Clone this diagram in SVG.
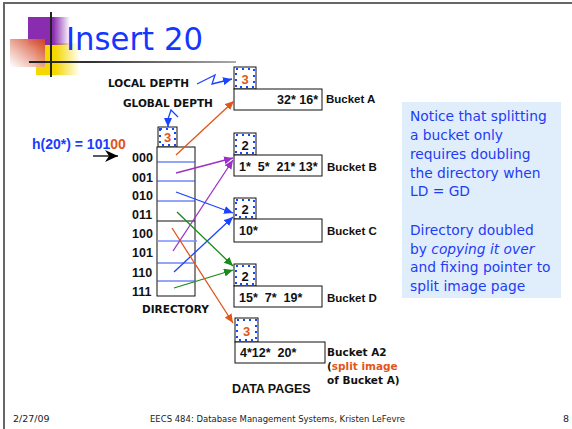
<svg xmlns="http://www.w3.org/2000/svg" width="572" height="429" viewBox="0 0 572 429">
<defs>
<style>
.lbl{font-family:"DejaVu Sans",sans-serif;font-weight:bold;font-size:10.5px;fill:#111}
.hv{font-family:"Liberation Sans",Arial,sans-serif;font-weight:bold;fill:#111}
.note{font-family:"DejaVu Sans",sans-serif;font-size:13.8px;fill:#1f3cf5}
.foot{font-family:"DejaVu Sans",sans-serif;font-size:9.5px;fill:#222}
.box{fill:#fff;stroke:#111;stroke-width:1}
.dots{fill:none;stroke:#1447ff;stroke-width:2;stroke-dasharray:2 4}
.dv{fill:#111}
.or{fill:#e2561a}
.conn{fill:none;stroke-width:1.3}
</style>
<linearGradient id="gPur" x1="0" y1="0" x2="1" y2="0"><stop offset="0" stop-color="#8a2cb0"/><stop offset="0.6" stop-color="#8a2cb0"/><stop offset="1" stop-color="#8a2cb0" stop-opacity="0"/></linearGradient>
<linearGradient id="gYel" x1="0" y1="0" x2="1" y2="0"><stop offset="0" stop-color="#f4d800"/><stop offset="0.45" stop-color="#f4d800"/><stop offset="1" stop-color="#f4d800" stop-opacity="0"/></linearGradient>
<linearGradient id="gRed" x1="1" y1="0" x2="0" y2="1"><stop offset="0" stop-color="#d2401e"/><stop offset="1" stop-color="#ffffff" stop-opacity="0.9"/></linearGradient>
<linearGradient id="gLine" gradientUnits="userSpaceOnUse" x1="29" y1="0" x2="236" y2="0"><stop offset="0" stop-color="#222"/><stop offset="0.3" stop-color="#333"/><stop offset="1" stop-color="#aaa"/></linearGradient>
<marker id="aOr" markerUnits="userSpaceOnUse" markerWidth="10" markerHeight="8" refX="9" refY="4" orient="auto"><path d="M0,0 L9,4 L0,8 z" fill="#e2561a"/></marker>
<marker id="aPu" markerUnits="userSpaceOnUse" markerWidth="10" markerHeight="8" refX="9" refY="4" orient="auto"><path d="M0,0 L9,4 L0,8 z" fill="#9a30c8"/></marker>
<marker id="aBl" markerUnits="userSpaceOnUse" markerWidth="10" markerHeight="8" refX="9" refY="4" orient="auto"><path d="M0,0 L9,4 L0,8 z" fill="#1a44ff"/></marker>
<marker id="aGr" markerUnits="userSpaceOnUse" markerWidth="10" markerHeight="8" refX="9" refY="4" orient="auto"><path d="M0,0 L9,4 L0,8 z" fill="#1a8a1a"/></marker>
<marker id="aBk" markerUnits="userSpaceOnUse" markerWidth="14" markerHeight="12" refX="13" refY="6" orient="auto"><path d="M0,0 L13,6 L0,12 L4,6 z" fill="#000"/></marker>
</defs>
<rect width="572" height="429" fill="#fff"/>
<path d="M4,429 V3 H572" fill="none" stroke="#666" stroke-width="2"/>

<g id="decor">
<rect x="36" y="43" width="44" height="32" fill="url(#gYel)"/>
<rect x="28" y="17" width="42" height="28" fill="url(#gPur)"/>
<rect x="10" y="39" width="35" height="28" fill="url(#gRed)"/>
<rect x="29" y="61" width="207" height="2" fill="url(#gLine)"/>
<rect x="50" y="12" width="2" height="65" fill="#222"/>
</g>
<text x="66" y="50" font-family="DejaVu Sans,sans-serif" font-size="32" fill="#1436ff" textLength="137" lengthAdjust="spacingAndGlyphs">Insert 20</text>

<g id="labels">
<text class="lbl" x="108" y="87">LOCAL DEPTH</text>
<text class="lbl" x="123" y="107">GLOBAL DEPTH</text>
<text class="hv" x="32" y="149" font-size="14" fill="#1a3cff"><tspan fill="#1a3cff">h(20*) = 101</tspan><tspan fill="#e2561a">00</tspan></text>
<text class="lbl" x="142" y="313">DIRECTORY</text>
<text class="hv" x="232" y="393" font-size="12.5">DATA PAGES</text>
</g>

<g id="globaldepth">
<rect class="box" x="158" y="127" width="19" height="20"/>
<rect class="dots" x="160" y="129" width="15" height="16"/>
<text class="hv or" x="167.5" y="142" font-size="13" text-anchor="middle">3</text>
</g>

<g id="directory">
<rect class="box" x="157" y="147" width="38" height="149"/>
<line x1="157" y1="221" x2="195" y2="221" stroke="#111" stroke-width="1"/>
<g stroke="#2a4cf0" stroke-width="1">
<line x1="157" y1="162" x2="195" y2="162"/>
<line x1="157" y1="181" x2="195" y2="181"/>
<line x1="157" y1="201" x2="195" y2="201"/>
<line x1="157" y1="241" x2="197" y2="241" stroke="#7a90ff" stroke-width="1.5"/>
<line x1="157" y1="263" x2="195" y2="263"/>
<line x1="157" y1="281" x2="195" y2="281"/>
</g>
<g class="hv" font-size="12.5">
<text x="132" y="162">000</text>
<text x="132" y="182">001</text>
<text x="132" y="200">010</text>
<text x="132" y="219">011</text>
<text x="132" y="238">100</text>
<text x="132" y="257">101</text>
<text x="132" y="277">110</text>
<text x="132" y="296">111</text>
</g>
</g>

<g id="bucketA">
<rect class="box" x="234" y="67" width="22" height="22"/>
<rect class="dots" x="236" y="69" width="18" height="18"/>
<text class="hv or" x="245" y="84" font-size="13" text-anchor="middle">3</text>
<rect class="box" x="234" y="89" width="88" height="21"/>
<text class="hv" x="318" y="104" font-size="12.5" text-anchor="end">32* 16*</text>
<text class="hv" x="326" y="103" font-size="11.5">Bucket A</text>
</g>

<g id="bucketB">
<rect class="box" x="234" y="133" width="22" height="22"/>
<rect class="dots" x="236" y="135" width="18" height="18"/>
<text class="hv" x="245" y="150" font-size="13" text-anchor="middle">2</text>
<rect class="box" x="234" y="155" width="88" height="21"/>
<text class="hv" x="239" y="171" font-size="12.5" xml:space="preserve">1*  5*  21* 13*</text>
<text class="hv" x="327" y="171" font-size="11.5">Bucket B</text>
</g>

<g id="bucketC">
<rect class="box" x="234" y="198" width="22" height="21"/>
<rect class="dots" x="236" y="200" width="18" height="17"/>
<text class="hv" x="245" y="214" font-size="13" text-anchor="middle">2</text>
<rect class="box" x="234" y="219" width="88" height="23"/>
<text class="hv" x="239" y="235" font-size="12.5">10*</text>
<text class="hv" x="327" y="235" font-size="11.5">Bucket C</text>
</g>

<g id="bucketD">
<rect class="box" x="234" y="264" width="22" height="22"/>
<rect class="dots" x="236" y="266" width="18" height="18"/>
<text class="hv" x="245" y="281" font-size="13" text-anchor="middle">2</text>
<rect class="box" x="234" y="286" width="88" height="21"/>
<text class="hv" x="239" y="302" font-size="12.5" xml:space="preserve">15*  7*  19*</text>
<text class="hv" x="327" y="302" font-size="11.5">Bucket D</text>
</g>

<g id="bucketA2">
<rect class="box" x="235" y="318" width="23" height="24"/>
<rect class="dots" x="237" y="320" width="19" height="20"/>
<text class="hv or" x="246.5" y="336" font-size="13" text-anchor="middle">3</text>
<rect class="box" x="235" y="342" width="90" height="21"/>
<text class="hv" x="240" y="357" font-size="12.5" xml:space="preserve">4*12*  20*</text>
<text class="lbl" x="327" y="356">Bucket A2</text>
<text class="lbl" x="327" y="370">(<tspan fill="#e2561a">split image</tspan></text>
<text class="lbl" x="327" y="384">of Bucket A)</text>
</g>

<g id="note">
<rect x="402" y="102" width="159" height="196" fill="#e0eefc"/>
<text class="note" x="410" y="121">Notice that splitting</text>
<text class="note" x="410" y="140">a bucket only</text>
<text class="note" x="410" y="159">requires doubling</text>
<text class="note" x="410" y="178">the directory when</text>
<text class="note" x="410" y="196">LD = GD</text>
<text class="note" x="410" y="235">Directory doubled</text>
<text class="note" x="410" y="254">by <tspan font-style="italic">copying it over</tspan></text>
<text class="note" x="410" y="272">and fixing pointer to</text>
<text class="note" x="410" y="291">split image page</text>
</g>

<g id="connectors">
<polyline class="conn" stroke="#1a44ff" stroke-width="1" points="197,84 215,75 212,84 232,79" marker-end="url(#aBl)"/>
<polyline class="conn" stroke="#1a44ff" stroke-width="1" points="178,117 171,110 168,119 168,127" marker-end="url(#aBl)"/>
<line x1="93" y1="156" x2="118" y2="156" stroke="#000" stroke-width="1.3" marker-end="url(#aBk)"/>
<line class="conn" stroke="#e2561a" x1="176" y1="155" x2="234" y2="101" marker-end="url(#aOr)"/>
<line class="conn" stroke="#9a30c8" x1="176" y1="173" x2="233" y2="158" marker-end="url(#aPu)"/>
<line class="conn" stroke="#9a30c8" x1="173" y1="251" x2="233" y2="160" marker-end="url(#aPu)"/>
<line class="conn" stroke="#1a44ff" x1="176" y1="192" x2="233" y2="213" marker-end="url(#aBl)"/>
<line class="conn" stroke="#1a44ff" x1="174" y1="272" x2="233" y2="217" marker-end="url(#aBl)"/>
<line class="conn" stroke="#1a8a1a" x1="177" y1="212" x2="233" y2="266" marker-end="url(#aGr)"/>
<line class="conn" stroke="#1a8a1a" x1="174" y1="288" x2="233" y2="270" marker-end="url(#aGr)"/>
<line class="conn" stroke="#e2561a" x1="172" y1="228" x2="233" y2="323" marker-end="url(#aOr)"/>
</g>

<g id="footer">
<text class="foot" x="13" y="422">2/27/09</text>
<text class="foot" x="150" y="422" textLength="255" lengthAdjust="spacingAndGlyphs">EECS 484: Database Management Systems, Kristen LeFevre</text>
<text class="foot" x="563" y="422">8</text>
</g>
</svg>
